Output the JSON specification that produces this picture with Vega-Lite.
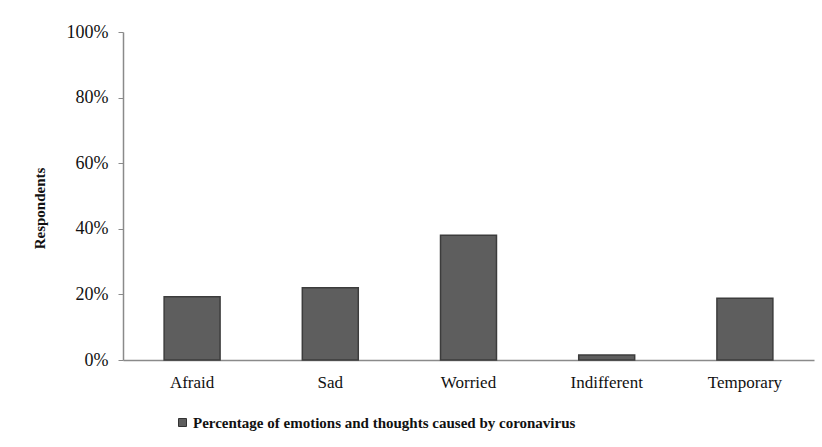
{
  "$schema": "https://vega.github.io/schema/vega-lite/v6.json",
  "width": 691,
  "height": 328,
  "autosize": {"type": "none"},
  "padding": {"left": 123, "top": 32, "right": 8, "bottom": 87},
  "background": "white",
  "config": {
    "view": {"stroke": null},
    "font": "Liberation Serif"
  },
  "data": {
    "values": [
      {"emotion": "Afraid", "value": 0.193, "series": "Percentage of emotions and thoughts caused by coronavirus"},
      {"emotion": "Sad", "value": 0.22, "series": "Percentage of emotions and thoughts caused by coronavirus"},
      {"emotion": "Worried", "value": 0.38, "series": "Percentage of emotions and thoughts caused by coronavirus"},
      {"emotion": "Indifferent", "value": 0.015, "series": "Percentage of emotions and thoughts caused by coronavirus"},
      {"emotion": "Temporary", "value": 0.188, "series": "Percentage of emotions and thoughts caused by coronavirus"}
    ]
  },
  "mark": {"type": "bar", "stroke": "#3c3c3c", "strokeWidth": 1.5},
  "encoding": {
    "x": {
      "field": "emotion",
      "type": "nominal",
      "sort": null,
      "scale": {"paddingInner": 0.595, "paddingOuter": 0.2975},
      "axis": {
        "title": null,
        "labelAngle": 0,
        "labelFont": "Liberation Serif",
        "labelFontSize": 17,
        "labelColor": "#111111",
        "labelPadding": 14,
        "ticks": false,
        "domainColor": "#8a8a8a",
        "domainWidth": 1.5
      }
    },
    "y": {
      "field": "value",
      "type": "quantitative",
      "scale": {"domain": [0, 1]},
      "axis": {
        "title": "Respondents",
        "titleFont": "Liberation Serif",
        "titleFontSize": 15,
        "titleFontWeight": "bold",
        "titleColor": "#111111",
        "titleX": -76,
        "titleY": 176,
        "format": "%",
        "values": [0, 0.2, 0.4, 0.6, 0.8, 1],
        "labelFont": "Liberation Serif",
        "labelFontSize": 18,
        "labelColor": "#111111",
        "labelPadding": 10,
        "tickSize": 5,
        "tickColor": "#8a8a8a",
        "domainColor": "#8a8a8a",
        "domainWidth": 1.5,
        "grid": false
      }
    },
    "color": {
      "field": "series",
      "type": "nominal",
      "scale": {"range": ["#5e5e5e"]},
      "legend": {
        "title": null,
        "orient": "none",
        "legendX": 52,
        "legendY": 383,
        "symbolType": "square",
        "symbolSize": 64,
        "symbolStrokeColor": "#333333",
        "symbolStrokeWidth": 1,
        "labelFont": "Liberation Serif",
        "labelFontSize": 15,
        "labelFontWeight": "bold",
        "labelColor": "#111111",
        "labelLimit": 600,
        "labelOffset": 3
      }
    }
  }
}
